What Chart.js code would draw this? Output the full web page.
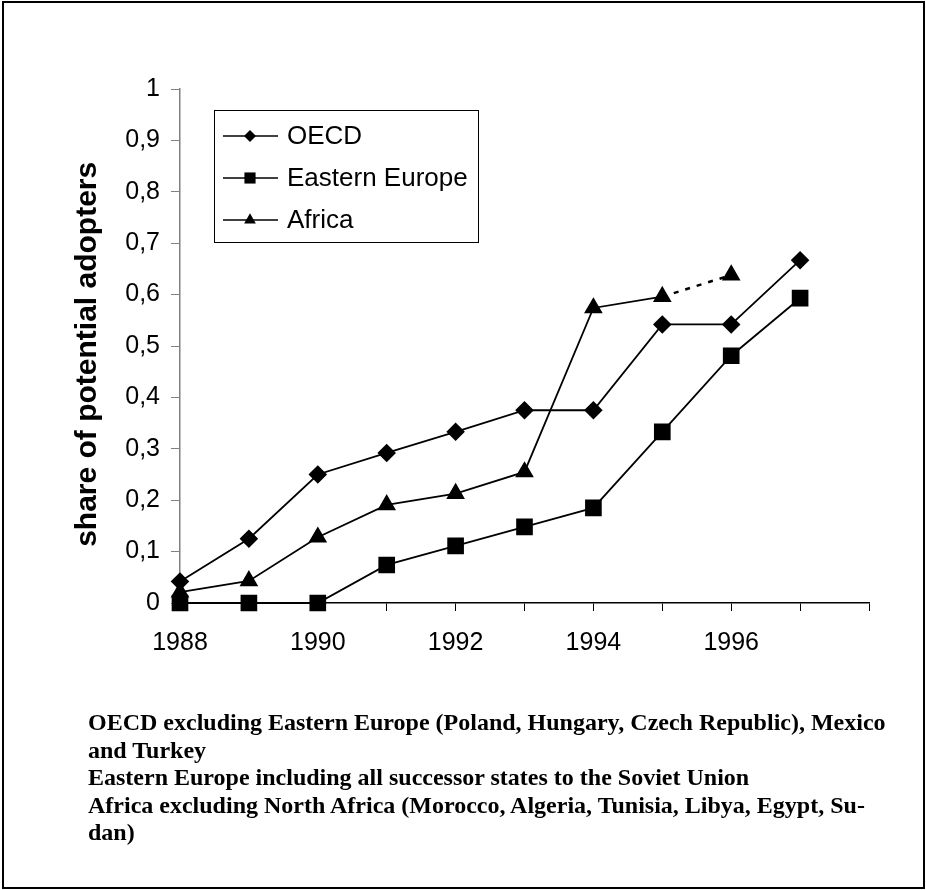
<!DOCTYPE html>
<html>
<head>
<meta charset="utf-8">
<script src="https://cdn.jsdelivr.net/npm/chart.js@4.4.1/dist/chart.umd.min.js"></script>
<style>
  body { margin: 0; background: #fff; }
  #wrap { position: absolute; left: 0; top: 0; width: 926px; height: 890px; }
  #frame { position: absolute; left: 2px; top: 1px; width: 919px; height: 884px; border: 2px solid #000; }
  #notes {
    position: absolute; left: 88px; top: 709px;
    font: bold 24px "Liberation Serif", "Times New Roman", serif;
    line-height: 27.5px; color: #000; white-space: nowrap;
  }
</style>
</head>
<body>
<div id="wrap">
  <div id="frame"></div>
  <canvas id="diffusionCanvas" width="926" height="890"></canvas>
  <div id="notes">
    OECD excluding Eastern Europe (Poland, Hungary, Czech Republic), Mexico<br>
    and Turkey<br>
    Eastern Europe including all successor states to the Soviet Union<br>
    Africa excluding North Africa (Morocco, Algeria, Tunisia, Libya, Egypt, Su-<br>
    dan)
  </div>
</div>
<script>
const years = [1988, 1989, 1990, 1991, 1992, 1993, 1994, 1995, 1996, 1997];
const oecd = [0.042, 0.125, 0.25, 0.292, 0.333, 0.375, 0.375, 0.542, 0.542, 0.667];
const easternEurope = [0, 0, 0, 0.074, 0.111, 0.148, 0.185, 0.333, 0.481, 0.593];
const africa = [0.021, 0.043, 0.128, 0.191, 0.213, 0.255, 0.574, 0.596, 0.638];

const toPoints = (vals) => vals.map((v, i) => ({ x: years[i], y: v }));

// draws the marker shapes for the legend box
function drawMarker(ctx, style, x, y, r) {
    ctx.beginPath();
    if (style === "rectRot") {
        ctx.moveTo(x, y - r); ctx.lineTo(x + r, y); ctx.lineTo(x, y + r); ctx.lineTo(x - r, y);
    } else if (style === "rect") {
        const s = r * Math.SQRT1_2;
        ctx.rect(x - s, y - s, 2 * s, 2 * s);
    } else {
        ctx.moveTo(x, y - r);
        ctx.lineTo(x + r * 0.866, y + r * 0.5);
        ctx.lineTo(x - r * 0.866, y + r * 0.5);
    }
    ctx.closePath();
    ctx.fill();
}

const boxLegend = {
    id: "boxLegend",
    afterDraw(chart) {
        const ctx = chart.ctx;
        const rows = [136, 178, 220];
        ctx.save();
        ctx.strokeStyle = "#000";
        ctx.lineWidth = 1;
        ctx.strokeRect(214.5, 110.5, 264, 132);
        ctx.font = '26px "Liberation Sans", Arial, sans-serif';
        ctx.textBaseline = "middle";
        chart.data.datasets.forEach((ds, i) => {
            const y = rows[i];
            ctx.strokeStyle = "#000";
            ctx.lineWidth = 1.5;
            ctx.beginPath();
            ctx.moveTo(223, y);
            ctx.lineTo(278, y);
            ctx.stroke();
            ctx.fillStyle = "#000";
            drawMarker(ctx, ds.pointStyle, 250, y, ds.pointRadius * 0.75);
            ctx.fillText(ds.label, 287, y + 1);
        });
        ctx.restore();
    }
};

const diffusionChart = new Chart(document.getElementById("diffusionCanvas"), {
    type: "line",
    data: {
        datasets: [{
            label: "OECD",
            data: toPoints(oecd),
            pointStyle: "rectRot",
            pointRadius: 8
        }, {
            label: "Eastern Europe",
            data: toPoints(easternEurope),
            pointStyle: "rect",
            pointRadius: 10.5
        }, {
            label: "Africa",
            data: toPoints(africa),
            pointStyle: "triangle",
            pointRadius: 9,
            segment: {
                borderDash: ctx => ctx.p0DataIndex === 7 ? [5, 7] : undefined,
                borderWidth: ctx => ctx.p0DataIndex === 7 ? 2.5 : undefined
            }
        }].map(ds => Object.assign({
            borderColor: "#000",
            backgroundColor: "#000",
            pointBackgroundColor: "#000",
            pointBorderColor: "#000",
            borderWidth: 1.8,
            tension: 0,
            clip: false
        }, ds))
    },
    options: {
        responsive: false,
        animation: false,
        events: [],
        layout: {
            padding: { left: 0, top: 89, right: 57, bottom: 0 }
        },
        plugins: {
            legend: { display: false },
            tooltip: { enabled: false }
        },
        scales: {
            x: {
                type: "linear",
                min: 1988,
                max: 1998,
                afterFit: s => { s.height = 287; },
                border: { color: "#000", width: 1.5 },
                grid: { drawOnChartArea: false, color: "#000", tickLength: 8 },
                ticks: {
                    stepSize: 1,
                    autoSkip: false,
                    maxRotation: 0,
                    padding: 17,
                    color: "#000",
                    font: { family: '"Liberation Sans", Arial, sans-serif', size: 25 },
                    callback: v => (v % 2 === 0 && v < 1998) ? String(v) : ""
                }
            },
            y: {
                min: 0,
                max: 1,
                afterFit: s => { s.width = 180; },
                border: { color: "#808080", width: 1.5 },
                grid: { drawOnChartArea: false, color: "#808080", tickLength: 9 },
                ticks: {
                    stepSize: 0.1,
                    padding: 11,
                    color: "#000",
                    font: { family: '"Liberation Sans", Arial, sans-serif', size: 25 },
                    callback: v => String(Math.round(v * 10) / 10).replace(".", ",")
                },
                title: {
                    display: true,
                    text: "share of potential adopters  ",
                    color: "#000",
                    padding: { top: 70, bottom: 0 },
                    font: { family: '"Liberation Sans", Arial, sans-serif', size: 30, weight: "bold" }
                }
            }
        }
    },
    plugins: [boxLegend]
});
</script>
</body>
</html>
